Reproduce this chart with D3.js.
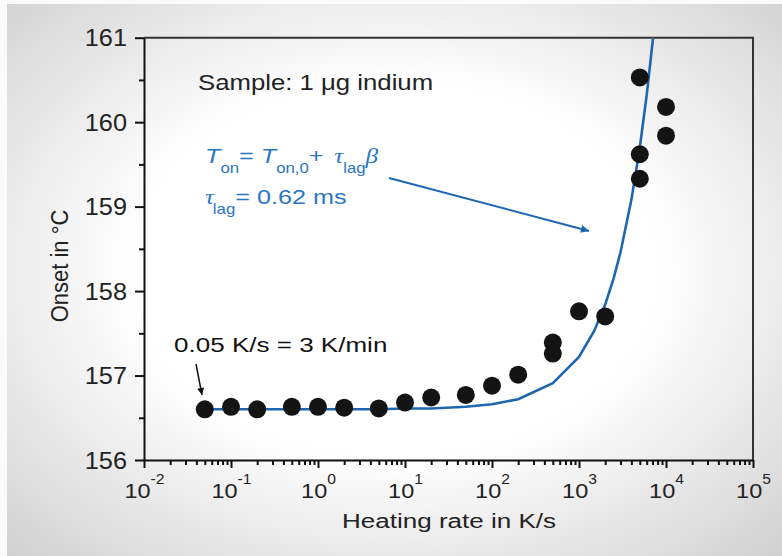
<!DOCTYPE html>
<html>
<head>
<meta charset="utf-8">
<script src="https://cdn.jsdelivr.net/npm/d3@7"></script>
<style>
  html, body { margin: 0; padding: 0; background: #fff; }
  svg { display: block; font-family: "Liberation Sans", Arial, sans-serif; }
</style>
</head>
<body>
<div id="chart"></div>
<script>
// measured points (heating rate in K/s, onset in °C)
var rate  = [0.05, 0.1, 0.2, 0.5, 1, 2, 5, 10, 20, 50, 100, 200, 500, 500, 1000, 2000, 5000, 5000, 5000, 10000, 10000];
var onset = [156.60, 156.63, 156.60, 156.63, 156.63, 156.62, 156.61, 156.68, 156.74, 156.77, 156.88, 157.01,
             157.39, 157.26, 157.76, 157.70, 160.53, 159.62, 159.33, 160.18, 159.84];

// fitted line
var fitRate  = [0.05, 0.1, 0.2, 0.5, 1, 2, 5, 10, 20, 50, 100, 200, 500, 1000, 1500, 2000, 2500, 3000, 4000, 5000, 6000, 7000, 8000];
var fitOnset = [156.60, 156.60, 156.60, 156.60, 156.60, 156.60, 156.60, 156.61, 156.61, 156.63, 156.66, 156.72,
                156.91, 157.22, 157.53, 157.84, 158.15, 158.46, 159.08, 159.70, 160.32, 160.94, 161.56];

var xDecades = [-2, -1, 0, 1, 2, 3, 4, 5];
var yTicks = [156, 157, 158, 159, 160, 161];

var width = 782, height = 556;

var svg = d3.select('#chart').append('svg')
  .attr('width', width)
  .attr('height', height);

var defs = svg.append('defs');

// slide background
var grad = defs.append('radialGradient')
  .attr('id', 'bg')
  .attr('cx', 0.5).attr('cy', 0.48).attr('r', 0.75);
grad.append('stop').attr('offset', 0.45).attr('stop-color', '#ffffff');
grad.append('stop').attr('offset', 1).attr('stop-color', '#cdcdcd');

svg.append('rect')
  .attr('width', width).attr('height', height)
  .attr('fill', '#fbfbfb');
svg.append('rect')
  .attr('x', 7).attr('y', 4)
  .attr('width', width - 7).attr('height', height - 4)
  .attr('fill', 'url(#bg)');

// arrow heads
function arrowHead(id, color, w, h) {
  defs.append('marker')
    .attr('id', id)
    .attr('viewBox', '0 0 10 10')
    .attr('refX', 10).attr('refY', 5)
    .attr('markerUnits', 'userSpaceOnUse')
    .attr('markerWidth', w).attr('markerHeight', h)
    .attr('orient', 'auto')
    .append('path')
    .attr('d', 'M0,0L10,5L0,10z')
    .attr('fill', color);
}
arrowHead('arrBlue', '#1f66b0', 14, 8);
arrowHead('arrBlack', '#111', 12, 7);

var x = d3.scaleLog().domain([1e-2, 1e5]).range([144, 753]);
var y = d3.scaleLinear().domain([156, 161]).range([460, 37.7]);

defs.append('clipPath').attr('id', 'plot')
  .append('rect')
  .attr('x', x.range()[0]).attr('y', y.range()[1])
  .attr('width', x.range()[1] - x.range()[0])
  .attr('height', y.range()[0] - y.range()[1]);

// text with the slide's horizontal stretch
function label(parent, px, py, str, size, sx) {
  return parent.append('text')
    .attr('transform', 'translate(' + px + ',' + py + ') scale(' + sx + ',1)')
    .style('font-size', size + 'px')
    .text(str);
}

// frame (top & right)
svg.append('path')
  .attr('d', 'M' + x.range()[0] + ',' + y.range()[1] + 'H' + x.range()[1] + 'V' + y.range()[0])
  .attr('fill', 'none')
  .attr('stroke', '#333')
  .attr('stroke-width', 2);

// y axis
var yMinor = d3.range(156.5, 161, 1);
svg.append('g')
  .attr('transform', 'translate(' + x.range()[0] + ',0)')
  .call(d3.axisLeft(y).tickValues(yMinor).tickSize(5).tickFormat(''))
  .call(function(g) { g.select('.domain').remove(); });

var yAxis = svg.append('g')
  .attr('transform', 'translate(' + x.range()[0] + ',0)')
  .call(d3.axisLeft(y).tickValues(yTicks).tickSize(9).tickSizeOuter(0).tickFormat(''));

yAxis.selectAll('.tick').each(function(d) {
  label(d3.select(this), -17, 8, d, 23, 1.1).attr('text-anchor', 'end').attr('fill', '#222');
});

// x axis
var xMinor = [];
xDecades.slice(0, -1).forEach(function(e) {
  for (var k = 2; k <= 9; k++) xMinor.push(k * Math.pow(10, e));
});
svg.append('g')
  .attr('transform', 'translate(0,' + y.range()[0] + ')')
  .call(d3.axisBottom(x).tickValues(xMinor).tickSize(5).tickFormat(''))
  .call(function(g) { g.select('.domain').remove(); });

var xAxis = svg.append('g')
  .attr('transform', 'translate(0,' + y.range()[0] + ')')
  .call(d3.axisBottom(x).tickValues(xDecades.map(function(e) { return Math.pow(10, e); }))
    .tickSize(8).tickSizeOuter(0).tickFormat(''));

xAxis.selectAll('.tick').each(function(d, i) {
  var t = label(d3.select(this), 0, 38, '', 21, 1.12)
    .attr('text-anchor', 'middle').attr('fill', '#222');
  t.append('tspan').text('10');
  t.append('tspan').attr('dy', -14).style('font-size', '14px').text(xDecades[i]);
});

[yAxis, xAxis].forEach(function(g) {
  g.selectAll('.domain').attr('stroke', '#111').attr('stroke-width', 2);
});
svg.selectAll('.tick line').attr('stroke', '#111').attr('stroke-width', 2);

// axis titles
label(svg, 449, 528, 'Heating rate in K/s', 21, 1.24)
  .attr('text-anchor', 'middle').attr('fill', '#222');
svg.append('text')
  .attr('transform', 'translate(68,266) rotate(-90) scale(1,1.1)')
  .attr('text-anchor', 'middle')
  .style('font-size', '22px')
  .attr('fill', '#222')
  .text('Onset in °C');

// fit line
var line = d3.line()
  .x(function(d) { return x(d[0]); })
  .y(function(d) { return y(d[1]); });

svg.append('path')
  .datum(d3.zip(fitRate, fitOnset))
  .attr('clip-path', 'url(#plot)')
  .attr('d', line)
  .attr('fill', 'none')
  .attr('stroke', '#1f66b0')
  .attr('stroke-width', 2.6);

// measured points
svg.append('g').selectAll('circle')
  .data(d3.zip(rate, onset))
  .enter().append('circle')
  .attr('cx', function(d) { return x(d[0]); })
  .attr('cy', function(d) { return y(d[1]); })
  .attr('r', 9)
  .attr('fill', '#141414');

// annotations
label(svg, 198, 90, 'Sample: 1 \u03bcg indium', 22, 1.17).attr('fill', '#222');
label(svg, 174, 352, '0.05 K/s = 3 K/min', 21, 1.24).attr('fill', '#111');

svg.append('line')
  .attr('x1', 196).attr('y1', 364).attr('x2', 202).attr('y2', 395)
  .attr('stroke', '#111').attr('stroke-width', 1.5)
  .attr('marker-end', 'url(#arrBlack)');

var blue = '#2a77c2';
var f1 = label(svg, 205, 163, '', 21, 1.2).attr('fill', blue);
f1.append('tspan').style('font-style', 'italic').text('T');
f1.append('tspan').attr('dy', 10).style('font-size', '14px').text('on');
f1.append('tspan').attr('dy', -10).text('= ');
f1.append('tspan').style('font-style', 'italic').text('T');
f1.append('tspan').attr('dy', 10).style('font-size', '14px').text('on,0');
f1.append('tspan').attr('dy', -10).text('+ ');
f1.append('tspan').attr('dx', 3).style('font-family', '"Liberation Serif", serif').style('font-style', 'italic').text('\u03c4');
f1.append('tspan').attr('dy', 10).style('font-size', '14px').text('lag');
f1.append('tspan').attr('dy', -10).style('font-family', '"Liberation Serif", serif').style('font-style', 'italic').text('\u03b2');

var f2 = label(svg, 205, 204, '', 21, 1.2).attr('fill', blue);
f2.append('tspan').style('font-family', '"Liberation Serif", serif').style('font-style', 'italic').text('\u03c4');
f2.append('tspan').attr('dy', 10).attr('dx', -1).style('font-size', '14px').text('lag');
f2.append('tspan').attr('dy', -10).text('= 0.62 ms');

svg.append('line')
  .attr('x1', 389).attr('y1', 178).attr('x2', 589).attr('y2', 231)
  .attr('stroke', '#1f66b0').attr('stroke-width', 2)
  .attr('marker-end', 'url(#arrBlue)');
</script>
</body>
</html>
